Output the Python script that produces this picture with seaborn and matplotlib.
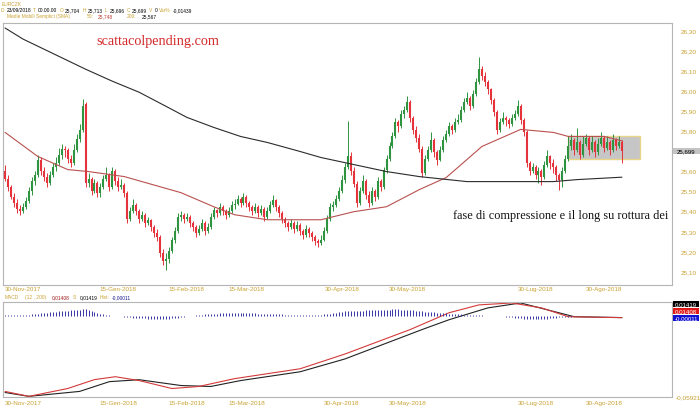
import numpy as np
import pandas as pd
import matplotlib
matplotlib.use("Agg")
import matplotlib.pyplot as plt
import seaborn as sns
from matplotlib.patches import Rectangle
from matplotlib import font_manager

sns.set_style("white")
plt.rcParams['font.family'] = ['Liberation Sans', 'DejaVu Sans']

# ---------------- data ----------------
opens = [25.60, 25.56, 25.52, 25.47, 25.44, 25.41, 25.40, 25.42, 25.45, 25.50,
         25.55, 25.58, 25.655, 25.60, 25.57, 25.54, 25.58, 25.62, 25.64, 25.68,
         25.705, 25.70, 25.66, 25.64, 25.70, 25.755, 25.80, 25.93, 25.54, 25.56,
         25.50, 25.54, 25.49, 25.52, 25.56, 25.58, 25.52, 25.60, 25.55, 25.52,
         25.53, 25.49, 25.36, 25.40, 25.43, 25.40, 25.36, 25.38, 25.34, 25.355,
         25.32, 25.29, 25.27, 25.19, 25.15, 25.16, 25.20, 25.255, 25.30, 25.37,
         25.38, 25.36, 25.37, 25.34, 25.32, 25.29, 25.31, 25.34, 25.30, 25.32,
         25.37, 25.405, 25.39, 25.42, 25.40, 25.38, 25.40, 25.43, 25.435, 25.46,
         25.44, 25.47, 25.44, 25.42, 25.40, 25.42, 25.39, 25.41, 25.37, 25.40,
         25.43, 25.455, 25.42, 25.39, 25.36, 25.34, 25.32, 25.34, 25.31, 25.33,
         25.30, 25.28, 25.31, 25.29, 25.27, 25.25, 25.24, 25.255, 25.30, 25.36,
         25.42, 25.43, 25.46, 25.50, 25.555, 25.62, 25.675, 25.60, 25.535, 25.44,
         25.50, 25.55, 25.48, 25.44, 25.50, 25.47, 25.55, 25.52, 25.605, 25.66,
         25.72, 25.77, 25.84, 25.82, 25.88, 25.90, 25.94, 25.86, 25.80, 25.76,
         25.705, 25.59, 25.66, 25.70, 25.75, 25.69, 25.655, 25.70, 25.75, 25.78,
         25.82, 25.80, 25.84, 25.85, 25.90, 25.94, 25.96, 25.92, 25.98, 26.04,
         26.105, 26.07, 26.04, 26.005, 25.95, 25.89, 25.80, 25.84, 25.86, 25.85,
         25.83, 25.86, 25.88, 25.92, 25.85, 25.79, 25.64, 25.60, 25.62, 25.58,
         25.60, 25.57, 25.63, 25.675, 25.64, 25.62, 25.58, 25.555, 25.60, 25.66,
         25.72, 25.75, 25.70, 25.74, 25.68, 25.73, 25.76, 25.70, 25.74, 25.69,
         25.73, 25.76, 25.71, 25.74, 25.70, 25.75, 25.72, 25.74]
highs = [25.63, 25.58, 25.53, 25.49, 25.46, 25.43, 25.44, 25.47, 25.52, 25.57,
         25.60, 25.68, 25.67, 25.62, 25.59, 25.60, 25.64, 25.67, 25.71, 25.73,
         25.72, 25.71, 25.68, 25.73, 25.78, 25.83, 25.955, 25.94, 25.59, 25.57,
         25.56, 25.55, 25.54, 25.58, 25.62, 25.59, 25.62, 25.61, 25.57, 25.56,
         25.54, 25.50, 25.42, 25.46, 25.44, 25.41, 25.40, 25.39, 25.37, 25.36,
         25.33, 25.31, 25.28, 25.21, 25.19, 25.22, 25.27, 25.32, 25.39, 25.40,
         25.39, 25.39, 25.38, 25.35, 25.33, 25.33, 25.36, 25.35, 25.34, 25.39,
         25.42, 25.41, 25.44, 25.43, 25.41, 25.42, 25.45, 25.46, 25.48, 25.47,
         25.49, 25.48, 25.45, 25.43, 25.44, 25.43, 25.43, 25.42, 25.42, 25.45,
         25.48, 25.46, 25.43, 25.40, 25.37, 25.35, 25.36, 25.35, 25.35, 25.34,
         25.31, 25.33, 25.32, 25.30, 25.28, 25.26, 25.28, 25.32, 25.38, 25.44,
         25.45, 25.48, 25.52, 25.58, 25.64, 25.845, 25.69, 25.62, 25.55, 25.52,
         25.58, 25.56, 25.50, 25.52, 25.51, 25.57, 25.56, 25.62, 25.68, 25.74,
         25.79, 25.86, 25.85, 25.90, 25.92, 25.97, 25.95, 25.87, 25.82, 25.78,
         25.72, 25.68, 25.72, 25.79, 25.76, 25.70, 25.72, 25.77, 25.80, 25.84,
         25.83, 25.86, 25.88, 25.92, 25.96, 25.99, 25.97, 26.00, 26.06, 26.165,
         26.12, 26.09, 26.05, 26.01, 25.96, 25.90, 25.86, 25.89, 25.87, 25.86,
         25.88, 25.90, 25.95, 25.93, 25.86, 25.80, 25.65, 25.64, 25.63, 25.62,
         25.61, 25.65, 25.70, 25.68, 25.66, 25.63, 25.59, 25.62, 25.68, 25.77,
         25.78, 25.76, 25.81, 25.75, 25.77, 25.78, 25.77, 25.77, 25.75, 25.76,
         25.79, 25.77, 25.77, 25.75, 25.78, 25.76, 25.77, 25.75]
lows = [25.55, 25.50, 25.46, 25.42, 25.39, 25.38, 25.39, 25.41, 25.44, 25.48,
        25.53, 25.57, 25.58, 25.55, 25.52, 25.53, 25.57, 25.60, 25.63, 25.66,
        25.67, 25.64, 25.62, 25.63, 25.69, 25.74, 25.79, 25.52, 25.52, 25.48,
        25.49, 25.47, 25.47, 25.51, 25.55, 25.50, 25.51, 25.53, 25.50, 25.51,
        25.47, 25.34, 25.35, 25.39, 25.38, 25.34, 25.35, 25.32, 25.33, 25.30,
        25.27, 25.25, 25.17, 25.13, 25.105, 25.14, 25.19, 25.24, 25.29, 25.35,
        25.34, 25.35, 25.32, 25.30, 25.27, 25.28, 25.30, 25.28, 25.29, 25.31,
        25.36, 25.37, 25.38, 25.38, 25.36, 25.37, 25.39, 25.41, 25.43, 25.42,
        25.43, 25.42, 25.40, 25.38, 25.39, 25.37, 25.38, 25.35, 25.36, 25.39,
        25.42, 25.40, 25.37, 25.34, 25.32, 25.30, 25.31, 25.29, 25.30, 25.28,
        25.26, 25.27, 25.27, 25.25, 25.23, 25.22, 25.23, 25.25, 25.29, 25.35,
        25.40, 25.42, 25.45, 25.49, 25.54, 25.61, 25.58, 25.52, 25.42, 25.43,
        25.49, 25.46, 25.42, 25.43, 25.45, 25.46, 25.50, 25.51, 25.59, 25.65,
        25.71, 25.76, 25.79, 25.81, 25.86, 25.89, 25.84, 25.78, 25.74, 25.69,
        25.57, 25.58, 25.65, 25.69, 25.67, 25.63, 25.65, 25.69, 25.74, 25.77,
        25.78, 25.79, 25.83, 25.84, 25.89, 25.93, 25.90, 25.91, 25.97, 26.03,
        26.05, 26.02, 25.98, 25.93, 25.87, 25.78, 25.79, 25.83, 25.82, 25.81,
        25.82, 25.85, 25.87, 25.83, 25.77, 25.62, 25.58, 25.59, 25.56, 25.54,
        25.53, 25.56, 25.62, 25.61, 25.59, 25.55, 25.505, 25.52, 25.59, 25.65,
        25.70, 25.68, 25.69, 25.66, 25.67, 25.72, 25.68, 25.69, 25.67, 25.68,
        25.72, 25.69, 25.70, 25.68, 25.69, 25.70, 25.71, 25.64]
closes = [25.56, 25.52, 25.47, 25.44, 25.41, 25.40, 25.42, 25.45, 25.50, 25.55,
          25.58, 25.655, 25.60, 25.57, 25.54, 25.58, 25.62, 25.64, 25.68, 25.705,
          25.70, 25.66, 25.64, 25.70, 25.755, 25.80, 25.92, 25.54, 25.56, 25.50,
          25.54, 25.49, 25.52, 25.56, 25.58, 25.52, 25.60, 25.55, 25.52, 25.53,
          25.49, 25.36, 25.40, 25.43, 25.40, 25.36, 25.38, 25.34, 25.355, 25.32,
          25.29, 25.27, 25.19, 25.15, 25.16, 25.20, 25.255, 25.30, 25.37, 25.38,
          25.36, 25.37, 25.34, 25.32, 25.29, 25.31, 25.34, 25.30, 25.32, 25.37,
          25.405, 25.39, 25.42, 25.40, 25.38, 25.40, 25.43, 25.435, 25.46, 25.44,
          25.47, 25.44, 25.42, 25.40, 25.42, 25.39, 25.41, 25.37, 25.40, 25.43,
          25.455, 25.42, 25.39, 25.36, 25.34, 25.32, 25.34, 25.31, 25.33, 25.30,
          25.28, 25.31, 25.29, 25.27, 25.25, 25.24, 25.255, 25.30, 25.36, 25.42,
          25.43, 25.46, 25.50, 25.555, 25.62, 25.675, 25.60, 25.535, 25.44, 25.50,
          25.55, 25.48, 25.44, 25.50, 25.47, 25.55, 25.52, 25.605, 25.66, 25.72,
          25.77, 25.84, 25.82, 25.88, 25.90, 25.94, 25.86, 25.80, 25.76, 25.705,
          25.59, 25.66, 25.70, 25.75, 25.69, 25.655, 25.70, 25.75, 25.78, 25.82,
          25.80, 25.84, 25.85, 25.90, 25.94, 25.96, 25.92, 25.98, 26.04, 26.105,
          26.07, 26.04, 26.005, 25.95, 25.89, 25.80, 25.84, 25.86, 25.85, 25.83,
          25.86, 25.88, 25.92, 25.85, 25.79, 25.64, 25.60, 25.62, 25.58, 25.60,
          25.57, 25.63, 25.675, 25.64, 25.62, 25.58, 25.555, 25.60, 25.66, 25.72,
          25.75, 25.70, 25.74, 25.68, 25.73, 25.76, 25.70, 25.74, 25.69, 25.73,
          25.76, 25.71, 25.74, 25.70, 25.75, 25.72, 25.74, 25.699]

sma50_idx = [0, 11, 21, 28, 40, 59, 70, 77, 88, 106, 117, 128, 139, 148, 155, 160, 173, 184, 189, 201, 207]
sma50_val = [25.79, 25.67, 25.605, 25.595, 25.57, 25.49, 25.42, 25.38, 25.355, 25.355, 25.395,
             25.42, 25.505, 25.565, 25.655, 25.72, 25.805, 25.79, 25.77, 25.77, 25.748]
sma200_idx = [0, 6, 27, 36, 45, 54, 61, 70, 79, 88, 99, 106, 117, 128, 139, 155, 184, 192, 207]
sma200_val = [26.31, 26.255, 26.105, 26.045, 25.99, 25.92, 25.865, 25.815, 25.77, 25.74, 25.695,
              25.665, 25.63, 25.595, 25.57, 25.545, 25.545, 25.555, 25.567]

macd_idx = [0, 8, 21, 30, 37, 45, 56, 65, 77, 99, 114, 136, 149, 159, 170, 180, 189, 207]
macd_val = [-0.0546, -0.0592, -0.0519, -0.0436, -0.0409, -0.0445, -0.0519, -0.0500, -0.0427,
            -0.0335, -0.0198, 0.0031, 0.0187, 0.0260, 0.0278, 0.0232, 0.0150, 0.0141]
signal_idx = [0, 8, 25, 35, 45, 59, 69, 79, 99, 114, 140, 149, 162, 173, 182, 191, 207]
signal_val = [-0.0556, -0.0592, -0.0546, -0.0455, -0.0437, -0.0491, -0.0500, -0.0445, -0.0363,
              -0.0244, 0.0031, 0.0122, 0.0232, 0.0278, 0.0214, 0.0150, 0.0142]
hist_val = [0.0005, 0.0005, 0.0006, 0.0006, 0.0007, 0.0008, 0.0009, 0.0010,
            0.0012, 0.0015, 0.0018, 0.0021, 0.0024, 0.0027, 0.0030, 0.0033,
            0.0036, 0.0039, 0.0042, 0.0045, 0.0047, 0.0050, 0.0052, 0.0054,
            0.0056, 0.0058, 0.0062, 0.0060, 0.0052, 0.0045, 0.0038, 0.0030,
            0.0022, 0.0015, 0.0010, 0.0006, 0.0003, 0.0001, -0.0002, -0.0004,
            -0.0006, -0.0009, -0.0012, -0.0014, -0.0016, -0.0018, -0.0020, -0.0022,
            -0.0024, -0.0025, -0.0026, -0.0027, -0.0028, -0.0028, -0.0027, -0.0025,
            -0.0022, -0.0018, -0.0014, -0.0010, -0.0006, -0.0003, 0.0001, 0.0004,
            0.0007, 0.0010, 0.0013, 0.0015, 0.0017, 0.0019, 0.0021, 0.0022,
            0.0023, 0.0024, 0.0025, 0.0026, 0.0026, 0.0027, 0.0027, 0.0027,
            0.0027, 0.0026, 0.0025, 0.0024, 0.0023, 0.0022, 0.0021, 0.0020,
            0.0019, 0.0018, 0.0017, 0.0016, 0.0015, 0.0014, 0.0013, 0.0012,
            0.0011, 0.0010, 0.0010, 0.0009, 0.0009, 0.0008, 0.0008, 0.0008,
            0.0009, 0.0010, 0.0012, 0.0015, 0.0018, 0.0022, 0.0026, 0.0030,
            0.0034, 0.0038, 0.0042, 0.0046, 0.0048, 0.0050, 0.0050, 0.0050,
            0.0050, 0.0051, 0.0052, 0.0053, 0.0054, 0.0055, 0.0056, 0.0057,
            0.0058, 0.0059, 0.0060, 0.0060, 0.0060, 0.0059, 0.0058, 0.0057,
            0.0055, 0.0053, 0.0050, 0.0047, 0.0044, 0.0041, 0.0038, 0.0035,
            0.0032, 0.0030, 0.0028, 0.0026, 0.0024, 0.0022, 0.0020, 0.0018,
            0.0016, 0.0014, 0.0012, 0.0010, 0.0009, 0.0008, 0.0007, 0.0006,
            0.0005, 0.0004, 0.0003, 0.0002, 0.0001, 0.0000, -0.0001, -0.0003,
            -0.0006, -0.0009, -0.0012, -0.0015, -0.0018, -0.0021, -0.0024, -0.0026,
            -0.0028, -0.0029, -0.0030, -0.0030, -0.0029, -0.0027, -0.0025, -0.0022,
            -0.0019, -0.0016, -0.0013, -0.0010, -0.0008, -0.0006, -0.0005, -0.0004,
            -0.0003, -0.0003, -0.0002, -0.0002, -0.0002, -0.0001, -0.0001, -0.0001,
            -0.0001, -0.0001, -0.0001, -0.0001, -0.0001, -0.0001, -0.0001, -0.0001]

date_tick_idx = [6, 38, 61, 81, 113, 135, 178, 201]
date_tick_labels = ["30-Nov-2017", "15-Gen-2018", "15-Feb-2018", "15-Mar-2018",
                    "30-Apr-2018", "30-May-2018", "30-Lug-2018", "30-Ago-2018"]
price_ticks = [25.10, 25.20, 25.30, 25.40, 25.50, 25.60, 25.80, 25.90, 26.00, 26.10, 26.20, 26.30]
box_range = (189, 213, 25.658, 25.771)   # compression zone: start idx, end idx, low, high
last_price = 25.699
macd_min_label = -0.05921

# ---------------- style ----------------
W, H = 700, 414
GOLD = '#c9a232'
GREEN = '#2f9440'
RED = '#e6323a'
FRAME = '#b5b5b5'

avail = {f.name for f in font_manager.fontManager.ttflist}
SMALL_FAM = ['Liberation Sans Narrow', 'Liberation Sans'] if 'Liberation Sans Narrow' in avail \
    else ['Liberation Sans', 'DejaVu Sans']
SMALL_SIZE = 4.0 if 'Liberation Sans Narrow' in avail else 3.5

fig = plt.figure(figsize=(W / 100, H / 100), dpi=100)
fig.patch.set_facecolor('white')

def px_axes(l, t, r, b):
    return fig.add_axes([l / W, 1 - b / H, (r - l) / W, (b - t) / H])

ax = px_axes(3, 24, 672, 286)
axm = px_axes(3, 303, 672, 398)

idx = np.arange(len(closes))
o = np.array(opens); h = np.array(highs); l = np.array(lows); c = np.array(closes)
col = np.where(c >= o, GREEN, RED)

# compression box
ax.add_patch(Rectangle((box_range[0], box_range[2]), box_range[1] - box_range[0],
                       box_range[3] - box_range[2], facecolor='#c6c6c6',
                       edgecolor='#e9d58a', lw=1.0, zorder=1, clip_on=False))

ax.vlines(idx, l, h, colors=col, lw=0.7, zorder=3)
ax.vlines(idx, np.minimum(o, c), np.maximum(o, c), colors=col, lw=1.5, zorder=3)

df50 = pd.DataFrame({'i': sma50_idx, 'v': sma50_val})
df200 = pd.DataFrame({'i': sma200_idx, 'v': sma200_val})
sns.lineplot(data=df50, x='i', y='v', ax=ax, color='#b9514f', lw=0.8, zorder=4)
sns.lineplot(data=df200, x='i', y='v', ax=ax, color='#2b2b2b', lw=0.8, zorder=4)

ax.set_xlim(-0.7, 223.8)
ax.set_ylim(25.030, 26.335)
ax.set_xlabel(''); ax.set_ylabel('')
ax.yaxis.tick_right()
ax.set_yticks(price_ticks)
ax.set_yticklabels([f"{v:.2f}".replace('.', ',') for v in price_ticks])
ax.tick_params(axis='y', length=0, pad=6, labelsize=4.6, labelcolor=GOLD)
ax.set_xticks(date_tick_idx)
ax.set_xticklabels(date_tick_labels)
ax.tick_params(axis='x', length=0, pad=1.0, labelsize=4.5, labelcolor=GOLD)
for s in ax.spines.values():
    s.set_color(FRAME); s.set_linewidth(0.8)

ax.text(30.8, 26.25, "scattacolpending.com", color='#d42a2a', fontsize=10.3,
        family=['Liberation Serif', 'DejaVu Serif'], va='center', ha='left', zorder=5)
ax.text(150.3, 25.38, "fase di compressione e il long su rottura dei 2",
        color='#111111', fontsize=8.85, family=['Liberation Serif', 'DejaVu Serif'],
        va='center', ha='left', clip_on=True, zorder=5)

# ---------------- MACD panel ----------------
axh = axm.twinx()
axh.vlines(idx, 0, hist_val, colors='#3535a5', lw=0.7)
axh.set_ylim(-0.0742, 0.0128)
axh.set_yticks([])
for s in axh.spines.values():
    s.set_visible(False)

dfm = pd.DataFrame({'i': macd_idx, 'v': macd_val})
dfs = pd.DataFrame({'i': signal_idx, 'v': signal_val})
sns.lineplot(data=dfs, x='i', y='v', ax=axm, color='#222222', lw=0.8)
sns.lineplot(data=dfm, x='i', y='v', ax=axm, color='#d43a3a', lw=0.8)
axm.set_xlim(-0.7, 223.8)
axh.set_xlim(-0.7, 223.8)
axm.set_ylim(-0.0598, 0.0287)
axm.set_xlabel(''); axm.set_ylabel('')
axm.yaxis.tick_right()
axm.set_yticks([macd_min_label])
axm.set_yticklabels([f"{macd_min_label:.5f}".replace('.', ',')])
axm.tick_params(axis='y', length=0, pad=3, labelsize=4.6, labelcolor=GOLD)
axm.set_xticks(date_tick_idx)
axm.set_xticklabels(date_tick_labels)
axm.tick_params(axis='x', length=0, pad=2.5, labelsize=4.6, labelcolor=GOLD)
for s in axm.spines.values():
    s.set_color(FRAME); s.set_linewidth(0.8)

# ---------------- header / labels in pixel coordinates ----------------
renderer = fig.canvas.get_renderer()

def text_row(items, y, gap=2.0):
    """items: (preferred x px, text, colour); never lets consecutive texts overlap."""
    prev_end = -1e9
    for x, s, cc in items:
        x = max(x, prev_end + gap)
        t = fig.text(x / W, 1 - y / H, s, color=cc, fontsize=SMALL_SIZE, family=SMALL_FAM,
                     va='center', ha='left')
        bb = t.get_window_extent(renderer)
        prev_end = bb.x1

text_row([(2, "EURCZK", GOLD)], 4.5)
text_row([(1, "D", GOLD), (4, "23/09/2018", 'black'), (23, "T", GOLD), (27, "00.00.00", 'black'),
          (46, "O", GOLD), (50, "25,704", 'black'), (65, "H", GOLD), (69, "25,713", 'black'),
          (85, "L", GOLD), (88, "25,696", 'black'), (104, "C", GOLD), (108, "25,699", 'black'),
          (124, "V", GOLD), (128, "0", 'black'), (133, "Var%", GOLD), (147, "-0,01439", 'black')], 10.5)
text_row([(7, "Medie Mobili Semplici (SMA)", GOLD), (87, "50:", GOLD), (98, "25,748", '#c0392b'),
          (127, "200:", GOLD), (142, "25,567", 'black')], 16.5)
text_row([(5, "MACD", GOLD), (25, "(12 , 200)", GOLD), (52, "0,01408", '#a01818'),
          (73, "S:", GOLD), (78, "0,01419", 'black'), (100, "Hist:", GOLD),
          (110, "-0,00011", '#1a1a8a')], 298.0)

def flabel(x0, y0, x1, y1, s, fc, tc):
    fig.add_artist(Rectangle((x0 / W, 1 - y1 / H), (x1 - x0) / W, (y1 - y0) / H,
                             transform=fig.transFigure, facecolor=fc, edgecolor='none'))
    fig.text((x0 + x1) / 2 / W, 1 - (y0 + y1) / 2 / H, s, color=tc, fontsize=4.4,
             ha='center', va='center')

flabel(673, 148.5, 700, 155, f"{last_price:.3f}".replace('.', ','), '#c4c4c4', 'black')
flabel(673, 302, 699, 308, "0,01419", 'black', 'white')
flabel(673, 309, 699, 315, "0,01408", '#e01818', 'white')
flabel(673, 316, 699, 322, "-0,00011", '#1010d0', 'white')

fig.savefig("out.png", dpi=100, facecolor='white')
